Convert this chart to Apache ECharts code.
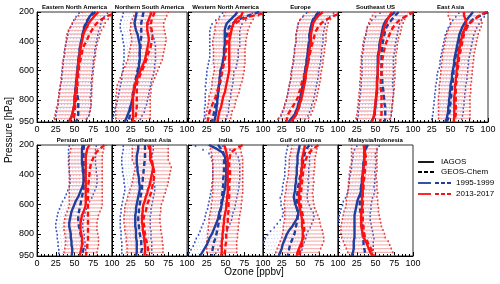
<!DOCTYPE html>
<html><head><meta charset="utf-8">
<script src="https://cdn.jsdelivr.net/npm/echarts@6/dist/echarts.min.js"></script>
<style>html,body{margin:0;padding:0;background:#fff}#c{width:500px;height:284px}</style>
</head><body><div id="c"></div>
<script>
const LEVELS = [200,225,250,275,300,325,350,375,400,425,450,475,500,525,550,575,600,625,650,675,700,725,750,775,800,825,850,875,900,925,950];
const X_TICKS = [0,25,50,75,100];
const Y_TICKS = [200,400,600,800,950];
const PANEL_NAMES = ["Eastern North America","Northern South America","Western North America","Europe","Southeast US","East Asia","Persian Gulf","Southeast Asia","India","Gulf of Guinea","Malaysia/Indonesia"];
const LEGEND_LABELS = ["IAGOS","GEOS-Chem","1995-1999","2013-2017"];

// I = IAGOS, G = GEOS-Chem, 95 = 1995-1999, 13 = 2013-2017, SD = error bar half width
const ENA_I95 = [75,71,68,66,64,62,61,60,59,58,57,57,56,55,55,54,54,53,53,52,52,51,51,50,50,50,49,48,47,45,42];
const ENA_G95 = [78,72,68,65,63,62,61,60,59,58,57,57,56,56,55,55,54,54,54,53,53,53,53,54,55,55,55,55,55,54,52];
const ENA_I13 = [82,77,73,69,67,64,62,61,60,59,58,57,57,56,55,55,54,54,53,53,52,52,51,51,50,50,49,48,47,45,43];
const ENA_G13 = [110,95,86,80,76,73,70,68,66,63,61,60,59,58,57,56,56,55,55,54,54,53,53,52,52,51,51,50,50,49,48];
const ENA_SD95 = [19,19,19,19,20,20,20,20,20,20,20,20,20,20,20,20,20,20,20,20,21,21,21,21,22,22,22,22,22,21,20];
const ENA_SD13 = [22,22,22,22,22,22,22,22,21,21,21,21,21,21,21,21,21,21,21,21,21,21,22,22,22,22,23,23,23,22,21];

const NSA_I95 = [33,32,31,30,31,32,34,35,36,37,37,37,37,37,36,36,35,34,33,32,31,30,29,28,27,26,24,23,21,19,17];
const NSA_G95 = [42,41,40,39,39,39,39,39,38,38,38,37,37,37,36,35,34,33,32,31,30,29,28,27,27,26,25,24,24,23,22];
const NSA_I13 = [53,51,49,47,47,47,48,49,49,48,47,46,45,44,42,40,38,36,34,32,30,29,29,28,28,28,28,28,28,28,27];
const NSA_G13 = [57,55,53,52,52,53,54,54,53,52,51,49,47,46,44,42,40,38,36,34,33,33,33,33,33,33,33,32,32,31,30];
const NSA_SD95 = [18,18,19,19,20,20,20,21,21,21,21,21,21,21,21,21,21,21,20,20,20,20,20,20,20,20,20,20,19,19,18];
const NSA_SD13 = [22,22,22,22,22,23,23,23,23,23,23,23,23,23,23,23,23,23,23,23,23,23,23,23,23,23,23,23,23,23,22];

const WNA_I95 = [66,62,57,52,50,49,49,49,49,49,48,48,48,47,46,45,43,43,42,42,41,41,40,40,39,39,38,38,37,36,35];
const WNA_G95 = [95,80,68,60,55,53,52,51,50,50,49,49,48,47,46,46,45,44,44,43,42,41,40,39,38,37,36,35,34,33,32];
const WNA_I13 = [73,71,64,61,59,58,57,56,55,55,55,55,55,55,55,55,55,54,53,52,51,50,49,47,46,45,44,42,41,40,39];
const WNA_G13 = [110,87,71,64,59,57,55,54,52,51,51,50,50,49,48,47,46,45,44,42,41,40,38,37,35,33,31,29,28,27,26];
const WNA_SD95 = [20,20,20,20,20,20,20,20,20,20,19,19,19,19,19,19,18,18,18,18,18,17,17,17,16,16,16,16,15,15,15];
const WNA_SD13 = [23,23,23,23,23,22,22,22,22,22,21,21,21,21,21,20,20,20,20,20,19,19,19,19,18,18,18,17,17,17,16];

const EUR_I95 = [76,71,67,65,64,63,62,62,62,61,60,60,59,59,58,57,56,56,55,54,53,52,51,50,49,47,46,44,42,38,34];
const EUR_G95 = [74,70,67,65,64,63,62,62,61,61,60,60,59,58,58,57,56,55,55,54,53,52,52,51,50,49,48,46,44,41,38];
const EUR_I13 = [80,74,70,67,66,65,64,64,64,63,62,62,61,60,60,59,58,57,57,56,55,54,53,52,51,49,48,46,44,41,37];
const EUR_G13 = [110,95,85,78,74,71,69,68,67,65,64,63,62,61,60,58,56,55,54,52,51,50,48,47,45,42,39,36,33,32,31];
const EUR_SD95 = [18,18,18,18,18,18,18,18,18,18,18,18,18,18,18,18,18,18,18,18,18,18,18,18,18,18,18,18,18,18,18];
const EUR_SD13 = [20,20,20,20,20,20,20,20,20,20,20,20,20,20,20,20,20,20,20,20,20,20,20,20,20,20,20,20,20,20,20];

const SUS_I95 = [76,70,65,62,60,59,58,57,56,55,55,54,53,53,53,53,53,53,52,52,52,52,52,51,51,50,50,49,49,47,44];
const SUS_G95 = [81,76,72,68,65,63,62,61,60,59,59,58,58,58,58,58,58,58,59,59,60,60,61,61,62,62,63,63,63,63,62];
const SUS_I13 = [72,69,66,64,62,61,60,58,57,56,56,55,54,54,54,53,53,53,53,52,52,52,51,51,50,50,49,49,48,47,45];
const SUS_G13 = [101,92,83,78,74,71,69,67,65,63,62,61,60,59,59,58,58,58,57,57,57,57,58,58,58,58,58,58,58,57,56];
const SUS_SD95 = [20,20,20,20,21,21,21,21,21,21,21,21,21,21,21,21,21,21,21,21,21,22,22,22,22,22,22,22,22,22,22];
const SUS_SD13 = [23,23,23,23,23,23,23,23,23,23,23,23,23,23,23,23,23,23,23,23,23,23,23,23,23,23,23,23,23,23,23];

const EAS_I95 = [80,76,72,69,66,64,62,61,60,59,58,57,56,55,55,54,53,52,52,51,50,50,49,49,48,48,47,47,46,45,43];
const EAS_G95 = [100,90,80,75,72,69,66,64,62,61,60,58,57,56,56,55,54,54,53,53,52,52,51,51,50,50,49,49,48,47,45];
const EAS_I13 = [68,68,70,71,70,68,66,65,64,63,62,61,60,60,59,59,58,58,57,57,56,56,56,55,55,55,55,55,55,55,54];
const EAS_G13 = [98,88,82,76,73,70,68,67,66,65,64,63,62,61,61,60,59,59,58,58,57,57,57,57,57,57,57,57,57,56,55];
const EAS_SD95 = [19,19,19,19,19,19,19,19,19,19,19,19,19,19,19,19,20,20,20,20,20,20,20,20,20,20,20,20,20,20,20];
const EAS_SD13 = [21,21,21,21,21,21,21,21,21,21,21,21,21,21,21,21,21,21,21,21,21,21,21,21,21,21,21,21,21,21,21];

const PGU_I95 = [61,60,60,60,60,60,61,61,62,62,62,61,59,57,55,52,50,48,46,45,44,43,43,44,45,45,46,46,47,47,46];
const PGU_G95 = [63,62,62,62,62,62,63,63,63,63,63,62,62,61,60,59,58,57,56,55,55,55,56,57,58,59,60,61,62,61,60];
const PGU_I13 = [70,67,66,65,65,65,65,65,65,65,65,65,65,65,65,65,65,64,62,60,59,58,58,58,59,60,60,60,59,58,57];
const PGU_G13 = [90,84,79,76,74,72,71,70,70,69,69,68,68,68,68,68,68,68,68,68,68,68,68,68,68,68,68,67,67,66,65];
const PGU_SD95 = [18,18,18,18,18,18,18,18,18,18,18,18,18,18,18,18,18,18,18,18,18,18,18,18,18,18,18,18,18,18,18];
const PGU_SD13 = [22,22,22,22,22,22,22,22,22,22,22,22,22,22,22,22,22,22,22,22,22,22,22,22,22,22,22,22,22,22,22];

const SEA_I95 = [35,35,34,33,33,33,34,34,35,36,36,37,37,36,35,34,33,32,32,31,31,31,31,32,32,32,33,33,33,33,32];
const SEA_G95 = [44,44,44,44,44,43,43,42,42,41,41,40,40,39,38,38,37,36,36,35,35,35,36,36,37,38,39,39,40,39,37];
const SEA_I13 = [51,51,51,51,51,53,55,54,53,52,51,50,48,47,45,44,42,41,41,40,40,40,41,41,42,43,43,44,44,44,43];
const SEA_G13 = [48,50,52,52,53,54,55,56,56,56,55,54,53,52,50,49,47,46,45,43,42,42,43,43,44,45,46,47,48,48,47];
const SEA_SD95 = [20,20,20,20,20,20,20,20,20,20,20,20,20,20,20,20,20,20,20,20,20,20,20,20,20,20,20,20,20,20,20];
const SEA_SD13 = [24,24,24,24,24,24,24,24,24,24,24,24,24,24,24,24,24,24,24,24,24,24,24,24,24,24,24,24,24,24,24];

const IND_I95 = [28,38,46,49,50,51,51,51,51,51,50,50,49,48,47,46,45,44,42,41,40,38,36,34,32,29,27,25,22,19,16];
const IND_G95 = [40,44,47,48,48,48,48,48,48,47,47,47,46,46,45,45,44,44,43,43,42,41,40,39,38,37,35,34,33,32,32];
const IND_I13 = [48,50,51,52,53,53,53,53,53,53,53,53,53,53,52,52,51,51,50,49,48,48,47,47,46,46,45,45,45,45,44];
const IND_G13 = [73,64,57,56,55,55,55,56,56,56,55,55,55,55,55,54,54,54,54,53,53,53,52,52,51,51,51,50,50,49,48];
const IND_SD95 = [18,18,18,18,18,18,18,18,18,18,18,18,18,18,18,18,18,18,18,18,18,18,18,18,18,18,18,18,18,18,18];
const IND_SD13 = [20,20,20,20,20,20,20,20,20,20,20,20,20,20,20,20,20,20,20,20,20,20,20,20,20,20,20,20,20,20,20];

const GOG_I95 = [49,48,47,46,46,46,45,45,45,44,44,43,43,42,41,42,43,45,47,47,45,42,39,35,32,30,28,26,25,23,21];
const GOG_G95 = [62,58,56,55,54,53,52,51,50,49,48,47,46,46,45,45,45,45,46,46,46,45,44,43,42,40,38,36,35,34,33];
const GOG_I13 = [56,55,54,53,52,52,52,51,51,50,50,49,49,48,48,48,48,49,50,51,52,52,52,53,53,53,52,50,48,46,45];
const GOG_G13 = [74,67,62,59,57,56,55,54,53,53,52,52,51,51,50,50,50,51,52,53,53,54,55,55,54,54,53,52,50,49,48];
const GOG_SD95 = [16,16,16,16,16,16,16,16,16,16,17,17,17,17,18,18,19,19,20,21,22,23,24,25,26,27,27,27,27,27,27];
const GOG_SD13 = [17,17,17,17,17,17,17,17,17,17,18,18,18,18,19,19,20,20,21,22,23,24,25,26,27,28,29,29,29,29,29];

const MAL_I95 = [40,37,35,35,35,34,34,33,33,32,32,31,31,30,28,26,25,24,23,22,22,22,22,22,22,22,21,21,21,20,18];
const MAL_G95 = [37,36,35,35,35,34,34,34,33,32,32,31,30,30,29,29,29,29,30,30,31,31,32,32,33,33,34,34,35,36,37];
const MAL_I13 = [35,35,35,35,35,35,34,34,33,33,33,33,33,33,32,32,32,32,31,31,31,31,31,32,33,34,37,39,41,43,46];
const MAL_G13 = [34,35,36,37,37,37,36,36,35,35,34,34,34,33,33,33,33,33,33,33,33,33,34,34,35,36,39,41,44,46,48];
const MAL_SD95 = [15,15,15,15,16,16,16,16,17,17,17,17,18,18,18,19,19,20,20,21,21,22,23,24,25,26,26,26,26,26,26];
const MAL_SD13 = [17,17,17,17,17,17,18,18,18,18,19,19,19,20,20,21,21,22,23,24,25,26,27,28,29,29,30,30,30,30,30];

const PANEL_DATA = [
  [ENA_I95,ENA_G95,ENA_I13,ENA_G13,ENA_SD95,ENA_SD13],
  [NSA_I95,NSA_G95,NSA_I13,NSA_G13,NSA_SD95,NSA_SD13],
  [WNA_I95,WNA_G95,WNA_I13,WNA_G13,WNA_SD95,WNA_SD13],
  [EUR_I95,EUR_G95,EUR_I13,EUR_G13,EUR_SD95,EUR_SD13],
  [SUS_I95,SUS_G95,SUS_I13,SUS_G13,SUS_SD95,SUS_SD13],
  [EAS_I95,EAS_G95,EAS_I13,EAS_G13,EAS_SD95,EAS_SD13],
  [PGU_I95,PGU_G95,PGU_I13,PGU_G13,PGU_SD95,PGU_SD13],
  [SEA_I95,SEA_G95,SEA_I13,SEA_G13,SEA_SD95,SEA_SD13],
  [IND_I95,IND_G95,IND_I13,IND_G13,IND_SD95,IND_SD13],
  [GOG_I95,GOG_G95,GOG_I13,GOG_G13,GOG_SD95,GOG_SD13],
  [MAL_I95,MAL_G95,MAL_I13,MAL_G13,MAL_SD95,MAL_SD13]
];

const BLUE = '#1f3f9f', RED = '#ff1010';
const FONT = 'Liberation Sans, Arial, sans-serif';
const COL_LEFT = [37,112,188,263,338,413];
const ROW_TOP = [12,145];
const PW = 75, PH = [110,111];
const BLUE_BAR_SHIFT = 7;

function barRenderer(color, capColor, width, dash) {
  return function (params, api) {
    const a = api.coord([api.value(0), api.value(2)]);
    const b = api.coord([api.value(1), api.value(2)]);
    return {type:'group', children:[
      {type:'line', shape:{x1:a[0],y1:a[1],x2:b[0],y2:b[1]}, style:{stroke:color,lineWidth:width,lineDash:dash}},
      {type:'line', shape:{x1:a[0],y1:a[1]-1,x2:a[0],y2:a[1]+1}, style:{stroke:capColor,lineWidth:1.5}},
      {type:'line', shape:{x1:b[0],y1:b[1]-1,x2:b[0],y2:b[1]+1}, style:{stroke:capColor,lineWidth:1.5}}
    ]};
  };
}

const grids=[], xAxes=[], yAxes=[], series=[], graphics=[];
PANEL_NAMES.forEach((name, k) => {
  const row = k < 6 ? 0 : 1, col = k < 6 ? k : k - 6;
  const left = COL_LEFT[col], top = ROW_TOP[row], h = PH[row];
  grids.push({left:left, top:top, width:PW, height:h, show:true, borderColor:'#333', borderWidth:1, containLabel:false});
  xAxes.push({gridIndex:k, type:'value', min:X_TICKS[0], max:X_TICKS[X_TICKS.length-1], interval:25,
    axisLine:{show:true,lineStyle:{color:'#000',width:1}},
    axisTick:{show:true,inside:true,length:4,lineStyle:{color:'#000'}},
    minorTick:{show:true,splitNumber:5,length:2,lineStyle:{color:'#000'}},
    splitLine:{show:false},
    axisLabel:{fontSize:9,color:'#000',fontFamily:FONT,margin:3,showMinLabel:col===0,hideOverlap:false}});
  yAxes.push({gridIndex:k, type:'value', inverse:true, min:Y_TICKS[0], max:Y_TICKS[Y_TICKS.length-1], interval:200,
    axisLine:{show:true,lineStyle:{color:'#000',width:1}},
    axisTick:{show:true,inside:true,length:4,lineStyle:{color:'#000'}},
    minorTick:{show:true,splitNumber:8,length:2,lineStyle:{color:'#000'}},
    splitLine:{show:false},
    axisLabel:{show:col===0,fontSize:9,color:'#000',fontFamily:FONT,margin:3}});
  const [i95,g95,i13,g13,s95,s13] = PANEL_DATA[k];
  series.push({type:'custom', xAxisIndex:k, yAxisIndex:k, clip:true, z:1,
    renderItem: barRenderer('rgba(90,120,220,0.55)', 'rgba(40,70,190,0.9)', 0.8, [1,2]),
    data: LEVELS.map((p,j)=>[i95[j]-s95[j], i95[j]+s95[j], p+BLUE_BAR_SHIFT])});
  series.push({type:'custom', xAxisIndex:k, yAxisIndex:k, clip:true, z:2,
    renderItem: barRenderer('rgba(240,110,110,0.5)', 'rgba(230,40,40,0.85)', 1.3, null),
    data: LEVELS.map((p,j)=>[i13[j]-s13[j], i13[j]+s13[j], p])});
  const mk = (vals, color, dashed, z) => ({type:'line', xAxisIndex:k, yAxisIndex:k, z:z, clip:true,
    showSymbol:false, symbol:'none', silent:true, animation:false,
    lineStyle:{color:color, width:2.4, type: dashed ? [5,3] : 'solid'},
    data: LEVELS.map((p,j)=>[vals[j], p])});
  series.push(mk(i95, BLUE, false, 3));
  series.push(mk(g95, BLUE, true, 3));
  series.push(mk(i13, RED, false, 4));
  series.push(mk(g13, RED, true, 4));
  graphics.push({type:'text', x:left+PW/2, y:top-5, style:{text:name, align:'center', verticalAlign:'middle',
    font:'bold 6px '+FONT, fill:'#000'}});
});

// axis names
graphics.push({type:'text', x:254, y:272, style:{text:'Ozone [ppbv]', align:'center', verticalAlign:'middle', font:'10px '+FONT, fill:'#000'}});
graphics.push({type:'text', rotation:Math.PI/2, x:9, y:130, style:{text:'Pressure [hPa]', align:'center', verticalAlign:'middle', font:'10px '+FONT, fill:'#000'}});

// legend
const LX = 418;
const legRows = [
  {y:162, segs:[[LX,LX+16,'#000',null]], label:LEGEND_LABELS[0], tx:441},
  {y:172, segs:[[LX,LX+16,'#000',[4,2]]], label:LEGEND_LABELS[1], tx:441},
  {y:183, segs:[[LX,LX+13,BLUE,null],[LX+17,LX+33,BLUE,[4,2]]], label:LEGEND_LABELS[2], tx:456},
  {y:194, segs:[[LX,LX+13,RED,null],[LX+17,LX+33,RED,[4,2]]], label:LEGEND_LABELS[3], tx:456}
];
legRows.forEach(r => {
  r.segs.forEach(s => graphics.push({type:'line', shape:{x1:s[0],y1:r.y,x2:s[1],y2:r.y}, style:{stroke:s[2],lineWidth:1.8,lineDash:s[3]}}));
  graphics.push({type:'text', x:r.tx, y:r.y, style:{text:r.label, align:'left', verticalAlign:'middle', font:'8px '+FONT, fill:'#000'}});
});

const chart = echarts.init(document.getElementById('c'), null, {renderer:'canvas'});
chart.setOption({animation:false, grid:grids, xAxis:xAxes, yAxis:yAxes, series:series, graphic:graphics});
</script></body></html>
